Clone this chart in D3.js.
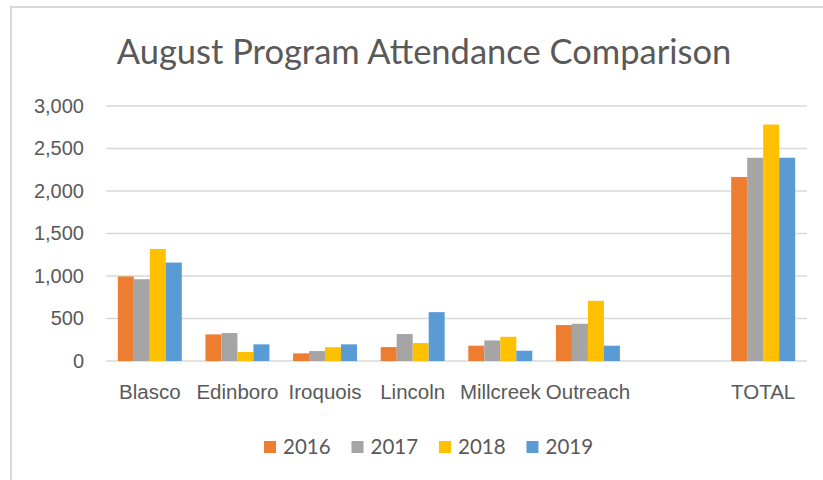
<!DOCTYPE html>
<html>
<head>
<meta charset="utf-8">
<script src="https://cdn.jsdelivr.net/npm/d3@7"></script>
<style>
  body { margin: 0; background: #fff; }
  svg { display: block; font-family: Lato, "Open Sans", sans-serif; }
  .grid line { stroke: #d9d9d9; stroke-width: 1.5; }
  .axis text { fill: #595959; }
</style>
</head>
<body>
<div id="chart"></div>
<script>
// chart values
var categories = ["Blasco", "Edinboro", "Iroquois", "Lincoln", "Millcreek", "Outreach", "", "TOTAL"];
var years = ["2016", "2017", "2018", "2019"];
var v2016 = [995, 313, 90, 164, 180, 423, null, 2165];
var v2017 = [962, 329, 117, 317, 242, 438, null, 2391];
var v2018 = [1318, 106, 162, 211, 285, 708, null, 2782];
var v2019 = [1158, 196, 196, 575, 121, 180, null, 2391];
var yTicks = [0, 500, 1000, 1500, 2000, 2500, 3000];
var colors = ["#ED7D31", "#A5A5A5", "#FFC000", "#5B9BD5"];

var series = [v2016, v2017, v2018, v2019];

var width = 823, height = 480,
    margin = {left: 106, right: 16, top: 106, bottom: 119};

var svg = d3.select("#chart").append("svg")
    .attr("width", width)
    .attr("height", height);

// outer chart border (only the top and left edges show in the frame)
svg.append("rect")
    .attr("x", 11).attr("y", 7)
    .attr("width", width + 10).attr("height", height + 10)
    .attr("fill", "none")
    .attr("stroke", "#d9d9d9")
    .attr("stroke-width", 2);

svg.append("text")
    .attr("x", 424)
    .attr("y", 64)
    .attr("text-anchor", "middle")
    .attr("fill", "#595959")
    .style("font-size", "34.5px")
    .text("August Program Attendance Comparison");

var x = d3.scaleBand()
    .domain(d3.range(categories.length))
    .range([margin.left, width - margin.right])
    .paddingInner(0.27)
    .paddingOuter(0.135);

var x1 = d3.scaleBand()
    .domain(years)
    .range([0, x.bandwidth()]);

var y = d3.scaleLinear()
    .domain([0, 3000])
    .range([height - margin.bottom, margin.top]);

// horizontal gridlines
svg.append("g")
    .attr("class", "grid")
    .selectAll("line")
    .data(yTicks)
    .enter().append("line")
    .attr("x1", margin.left)
    .attr("x2", width - margin.right)
    .attr("y1", function (d) { return y(d); })
    .attr("y2", function (d) { return y(d); });

// y axis labels
svg.append("g")
    .attr("class", "axis")
    .attr("transform", "translate(" + (margin.left - 22) + ",0)")
    .call(d3.axisLeft(y).tickValues(yTicks).tickSize(0).tickPadding(0)
        .tickFormat(d3.format(",")))
    .call(function (g) { g.select(".domain").remove(); })
    .selectAll("text")
    .style("font-size", "20px")
    .attr("font-family", null);

// bars
var groups = svg.append("g")
    .selectAll("g")
    .data(categories)
    .enter().append("g")
    .attr("transform", function (d, i) { return "translate(" + x(i) + ",0)"; });

groups.selectAll("rect")
    .data(function (d, i) {
        return series.map(function (s, k) { return {year: years[k], value: s[i], color: colors[k]}; })
            .filter(function (e) { return e.value != null; });
    })
    .enter().append("rect")
    .attr("x", function (d) { return x1(d.year); })
    .attr("y", function (d) { return y(d.value); })
    .attr("width", x1.bandwidth())
    .attr("height", function (d) { return y(0) - y(d.value); })
    .attr("fill", function (d) { return d.color; });

// x axis labels
svg.append("g")
    .attr("class", "axis")
    .attr("transform", "translate(0," + y(0) + ")")
    .call(d3.axisBottom(x).tickSize(0).tickPadding(23)
        .tickFormat(function (i) { return categories[i]; }))
    .call(function (g) { g.select(".domain").remove(); })
    .selectAll("text")
    .style("font-size", "20.5px")
    .attr("font-family", null);

// legend
var legend = svg.append("g")
    .selectAll("g")
    .data(years)
    .enter().append("g")
    .attr("transform", function (d, i) { return "translate(" + (264 + i * 87.5) + ",441)"; });

legend.append("rect")
    .attr("width", 12)
    .attr("height", 12)
    .attr("fill", function (d, i) { return colors[i]; });

legend.append("text")
    .attr("x", 19)
    .attr("y", 12.5)
    .attr("fill", "#595959")
    .style("font-size", "20.5px")
    .text(function (d) { return d; });
</script>
</body>
</html>
